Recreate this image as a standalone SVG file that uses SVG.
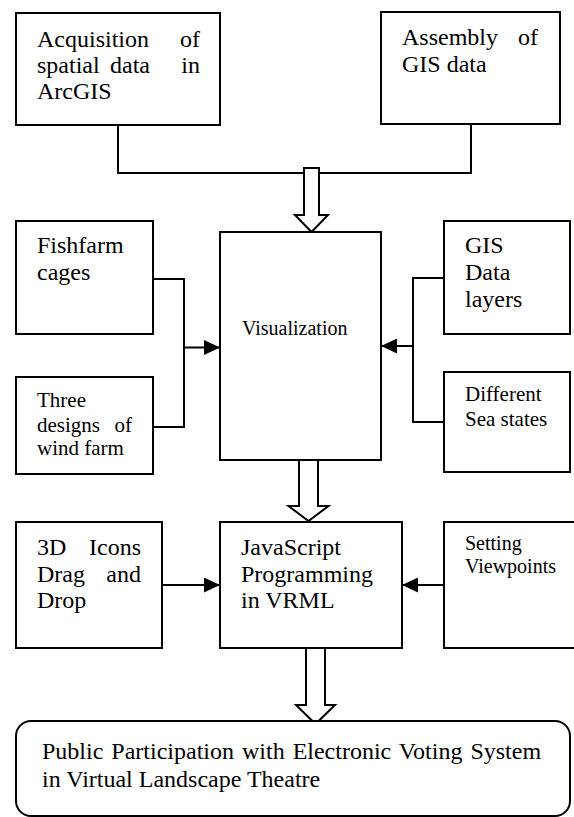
<svg xmlns="http://www.w3.org/2000/svg" width="574" height="817" viewBox="0 0 574 817">
<style>
.box{fill:#fff;stroke:#000;stroke-width:2}
.ln{fill:none;stroke:#000;stroke-width:2}
.ha{fill:#fff;stroke:#000;stroke-width:2;stroke-linejoin:miter}
.t24{font-size:24px}
.t21{font-size:21px}
.t20{font-size:20px}
</style>
<defs>
<marker id="ah" viewBox="0 0 16 15" refX="16" refY="7.5" markerWidth="16" markerHeight="15" markerUnits="userSpaceOnUse" orient="auto">
<path d="M0,0 L16,7.5 L0,15 z" fill="#000"/>
</marker>
</defs>
<rect width="574" height="817" fill="#fff"/>
<g id="connectors">
<polyline class="ln" points="118,125 118,173 471,173 471,124"/>
<polyline class="ln" points="149,279 184,279 184,427 149,427"/>
<line class="ln" x1="184" y1="347.5" x2="220" y2="347.5" marker-end="url(#ah)"/>
<polyline class="ln" points="444,278 413,278 413,422 444,422"/>
<line class="ln" x1="413" y1="346" x2="381" y2="346" marker-end="url(#ah)"/>
<line class="ln" x1="162" y1="585" x2="220" y2="585" marker-end="url(#ah)"/>
<line class="ln" x1="444" y1="585" x2="402" y2="585" marker-end="url(#ah)"/>
<polygon class="ha" points="304,168 319,168 319,215 328,215 311.5,232 295,215 304,215"/>
<polygon class="ha" points="299,460 318,460 318,506 328.5,506 308.5,521 288.5,506 299,506"/>
<polygon class="ha" points="306,648 325,648 325,705 335,705 315.5,724 296,705 306,705"/>
</g>
<g font-family="Liberation Serif, Times New Roman, serif" fill="#000">
<g id="acquisition">
<rect class="box" x="16" y="13" width="204" height="112"/>
<text class="t24" x="37" y="47">Acquisition</text>
<text class="t24" x="200" y="47" text-anchor="end">of</text>
<text class="t24" x="37" y="73">spatial</text>
<text class="t24" x="110" y="73">data</text>
<text class="t24" x="200" y="73" text-anchor="end">in</text>
<text class="t24" x="37" y="99">ArcGIS</text>
</g>
<g id="assembly">
<rect class="box" x="381" y="12" width="179" height="112"/>
<text class="t24" x="402" y="45">Assembly</text>
<text class="t24" x="538" y="45" text-anchor="end">of</text>
<text class="t24" x="402" y="72">GIS data</text>
</g>
<g id="fishfarm">
<rect class="box" x="16" y="221" width="137" height="113"/>
<text class="t24" x="37" y="253">Fishfarm</text>
<text class="t24" x="37" y="280">cages</text>
</g>
<g id="threedesigns">
<rect class="box" x="16" y="377" width="137" height="97"/>
<text class="t21" x="37" y="407">Three</text>
<text class="t21" x="37" y="432">designs</text>
<text class="t21" x="132" y="432" text-anchor="end">of</text>
<text class="t21" x="37" y="455">wind farm</text>
</g>
<g id="visualization">
<rect class="box" x="220" y="232" width="161" height="228"/>
<text class="t20" x="242" y="335">Visualization</text>
</g>
<g id="gislayers">
<rect class="box" x="444" y="221" width="126" height="113"/>
<text class="t24" x="465" y="253">GIS</text>
<text class="t24" x="465" y="280">Data</text>
<text class="t24" x="465" y="307">layers</text>
</g>
<g id="seastates">
<rect class="box" x="444" y="372" width="126" height="100"/>
<text class="t21" x="465" y="401">Different</text>
<text class="t21" x="465" y="426">Sea states</text>
</g>
<g id="icons3d">
<rect class="box" x="16" y="522" width="146" height="126"/>
<text class="t24" x="37" y="555">3D</text>
<text class="t24" x="141" y="555" text-anchor="end">Icons</text>
<text class="t24" x="37" y="582">Drag</text>
<text class="t24" x="141" y="582" text-anchor="end">and</text>
<text class="t24" x="37" y="608">Drop</text>
</g>
<g id="javascript">
<rect class="box" x="220" y="522" width="182" height="126"/>
<text class="t24" x="241" y="555">JavaScript</text>
<text class="t24" x="241" y="582">Programming</text>
<text class="t24" x="241" y="608">in VRML</text>
</g>
<g id="viewpoints">
<rect class="box" x="444" y="522" width="150" height="126"/>
<text class="t20" x="465" y="550">Setting</text>
<text class="t20" x="465" y="573">Viewpoints</text>
</g>
<g id="participation">
<rect class="box" x="16" y="721" width="554" height="95" rx="15" ry="15"/>
<text class="t24" x="42" y="759" word-spacing="2">Public Participation with Electronic Voting System</text>
<text class="t24" x="42" y="787">in Virtual Landscape Theatre</text>
</g>
</g>
</svg>
